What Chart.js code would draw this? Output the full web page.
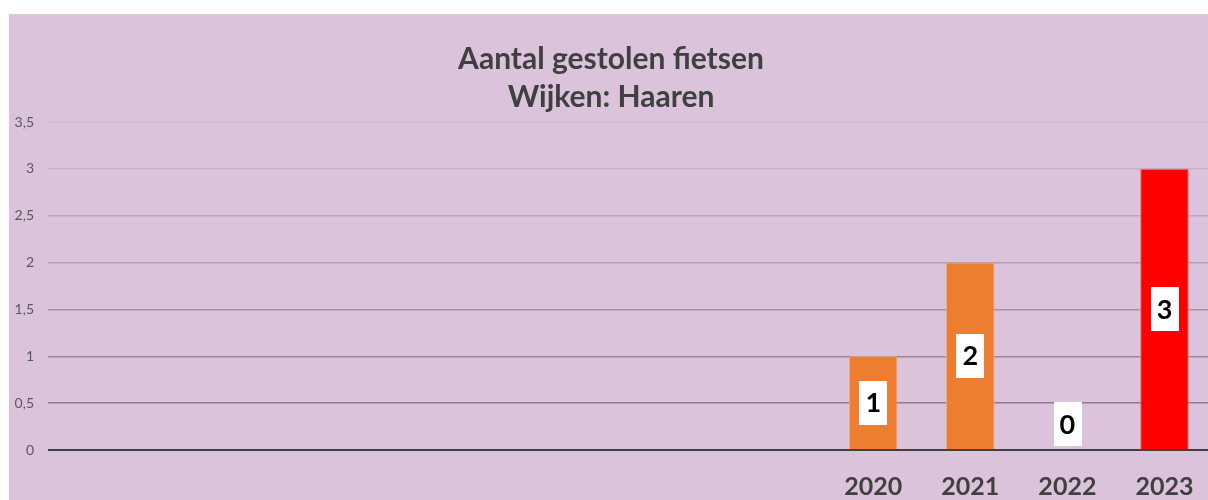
<!DOCTYPE html>
<html>
<head>
<meta charset="utf-8">
<script src="https://cdn.jsdelivr.net/npm/chart.js@4.4.1/dist/chart.umd.min.js"></script>
<style>
  html, body { margin: 0; padding: 0; background: #ffffff; overflow: hidden; width: 1208px; height: 500px; }
  #wrap { position: absolute; left: 9px; top: 14px; width: 1204px; height: 486px; background: #dbc4db; }
  canvas { display: block; }
</style>
</head>
<body>
<div id="wrap"><canvas id="c" width="1204" height="486"></canvas></div>
<script>
// ---- data ----
const categories = ['', '', '', '', '', '', '', '', '2020', '2021', '2022', '2023'];
const values = [null, null, null, null, null, null, null, null, 1, 2, 0, 3];
const yTicks = [0, 0.5, 1, 1.5, 2, 2.5, 3, 3.5];
const titleLines = ['Aantal gestolen fietsen', 'Wijken: Haaren'];

// ---- styles ----
const barColors = values.map((v, i) => i === values.length - 1 ? '#ff0000' : '#ed7d31');
const barBorders = values.map((v, i) => i === values.length - 1 ? '#ff6f6f' : '#f3a877');
const gridColorFor = v => {
  const map = {0: '#404040', 0.5: '#8c7c8c', 1: '#978797', 1.5: '#a393a3', 2: '#af9faf', 2.5: '#bba9bb', 3: '#c6b3c6', 3.5: '#d1bcd1'};
  return map[v] || '#c0b0c0';
};

const dataLabels = {
  id: 'dataLabels',
  afterDatasetsDraw(chart) {
    const ctx = chart.ctx;
    const meta = chart.getDatasetMeta(0);
    ctx.save();
    ctx.font = 'bold 27px Lato';
    ctx.textAlign = 'center';
    ctx.textBaseline = 'middle';
    meta.data.forEach((el, i) => {
      const v = chart.data.datasets[0].data[i];
      if (v === null || v === undefined) return;
      const props = el.getProps(['x', 'y', 'base'], true);
      const cy = v > 0 ? (props.y + props.base) / 2 : props.base - 26;
      const txt = String(v);
      const w = ctx.measureText(txt).width + 12;
      const h = 44;
      ctx.fillStyle = '#ffffff';
      ctx.fillRect(Math.round(props.x - w / 2), Math.round(cy - h / 2), Math.round(w), h);
      ctx.fillStyle = '#000000';
      ctx.fillText(txt, props.x, cy + 1);
    });
    ctx.restore();
  }
};

new Chart(document.getElementById('c'), {
  type: 'bar',
  data: {
    labels: categories,
    datasets: [{
      data: values,
      backgroundColor: barColors,
      borderColor: barBorders,
      borderWidth: 1,
      categoryPercentage: 1,
      barPercentage: 0.5
    }]
  },
  options: {
    responsive: false,
    animation: false,
    layout: { padding: { top: 11, right: 0, left: 0, bottom: 0 } },
    plugins: {
      legend: { display: false },
      tooltip: { enabled: false },
      title: {
        display: true,
        text: titleLines,
        color: '#404040',
        font: { family: 'Lato', size: 30, weight: 'bold', lineHeight: 1.267 },
        padding: { top: 15, bottom: 6 }
      }
    },
    scales: {
      x: {
        grid: { display: false },
        border: { display: false },
        ticks: {
          color: '#404040',
          font: { family: 'Lato', size: 25, weight: 'bold' },
          padding: 14,
          maxRotation: 0,
          autoSkip: false
        },
        afterFit(scale) { scale.height = 50; }
      },
      y: {
        min: 0,
        max: 3.5,
        afterBuildTicks(scale) { scale.ticks = yTicks.map(v => ({ value: v })); },
        grid: {
          drawTicks: false,
          color: c => gridColorFor(c.tick ? c.tick.value : 0),
          lineWidth: c => (c.tick && c.tick.value === 0) ? 2 : 1.5
        },
        border: { display: false },
        ticks: {
          color: '#595959',
          font: { family: 'Lato', size: 14 },
          padding: 14,
          callback: v => String(v).replace('.', ',')
        },
        afterFit(scale) { scale.width = 39; }
      }
    }
  },
  plugins: [dataLabels]
});
</script>
</body>
</html>
